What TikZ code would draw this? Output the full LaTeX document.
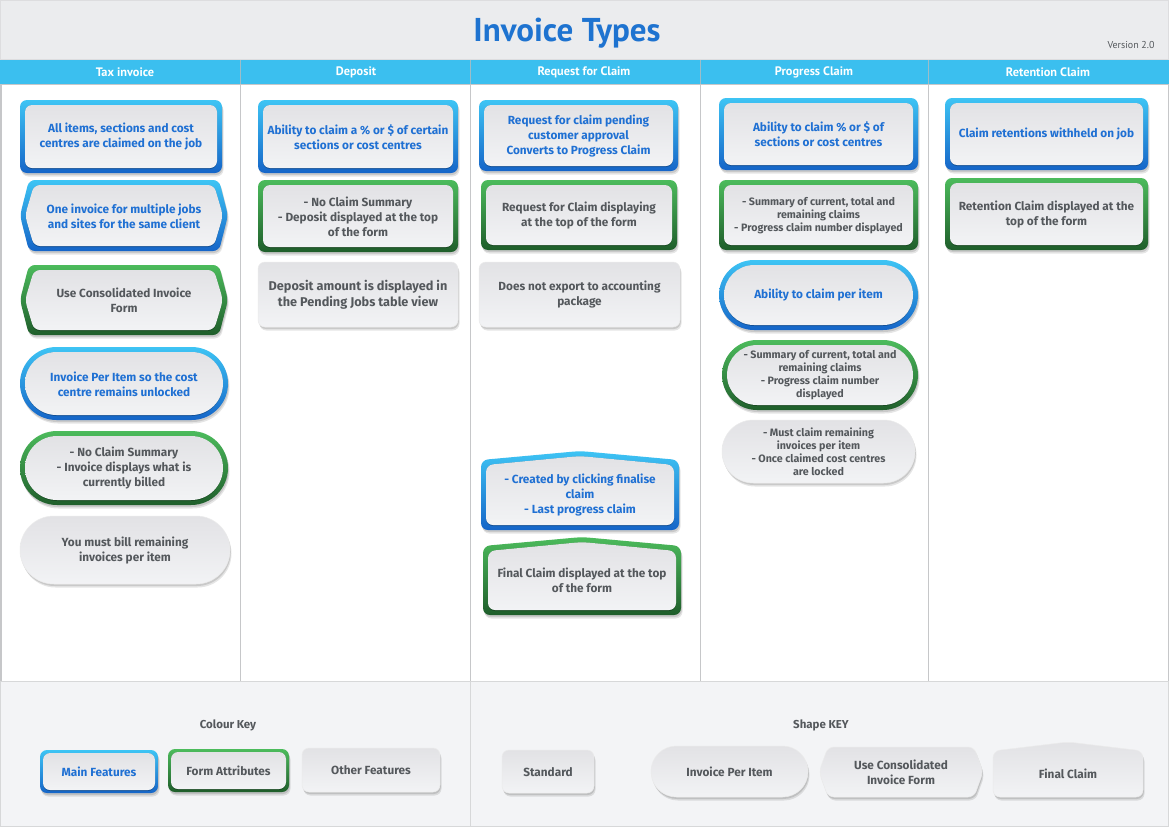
\documentclass[tikz,border=0pt]{standalone}
\usepackage{fontspec}
\setmainfont{Fira Sans}
\newfontfamily\headfont{PT Sans}
\definecolor{bluetop}{HTML}{3EC4F4}
\definecolor{bluebot}{HTML}{1565C8}
\definecolor{greentop}{HTML}{4CBB5C}
\definecolor{greenbot}{HTML}{1F5E2B}
\definecolor{fillTop}{HTML}{E2E2E5}
\definecolor{fillBot}{HTML}{F2F3F5}
\definecolor{bluetext}{HTML}{1F70D3}
\definecolor{graytext}{HTML}{54585C}
\definecolor{titlebg}{HTML}{EBECEE}
\definecolor{headbg}{HTML}{3BBFEF}
\definecolor{keybg}{HTML}{F3F4F6}
\definecolor{linegray}{HTML}{C6C7C9}
\definecolor{titleblue}{HTML}{1E73D0}

\newcommand{\fA}{\fontsize{11.8}{15}\selectfont\bfseries}
\newcommand{\fS}{\fontsize{10.7}{13}\selectfont\bfseries}
\newcommand{\fL}{\fontsize{12.7}{16}\selectfont\bfseries}
\def\bw{5}

% #1 type (0 standard, 1 stadium, 2 hexagon, 3 final), #2 x1, #3 y1, #4 x2, #5 y2, #6 inset, #7 options
\newcommand{\drawshape}[7]{%
  \pgfmathsetmacro\xa{#2+#6}\pgfmathsetmacro\ya{#3+#6}%
  \pgfmathsetmacro\xb{#4-#6}\pgfmathsetmacro\yb{#5-#6}%
  \pgfmathsetmacro\xm{(\xa+\xb)/2}\pgfmathsetmacro\ym{(\ya+\yb)/2}%
  \pgfmathsetmacro\rr{0.499*(\yb-\ya)}%
  \ifcase#1\relax
    \path[#7,rounded corners=7pt] (\xa,\ya) rectangle (\xb,\yb);
  \or
    \path[#7,rounded corners=\rr pt] (\xa,\ya) rectangle (\xb,\yb);
  \or
    \path[#7,rounded corners=6pt] (\xm,\yb) -- ({\xa+9},\yb) -- (\xa,\ym) -- ({\xa+9},\ya) -- ({\xb-9},\ya) -- (\xb,\ym) -- ({\xb-9},\yb) -- cycle;
  \or
    \path[#7,rounded corners=7pt] (\xm,\yb) -- (\xa,\yb) -- (\xa,{\ya+9}) -- (\xm,\ya) -- (\xb,{\ya+9}) -- (\xb,\yb) -- cycle;
  \fi}

% #1 name, #2 type, #3 kind (0 blue, 1 green, 2 gray), #4 x1, #5 y1, #6 x2, #7 y2, #8 font, #9 text
\newcommand{\featbox}[9]{%
  \drawshape{#2}{#4+1.5}{#5+3.5}{#6+1.5}{#7+3.5}{0}{fill=black,opacity=0.10}%
  \drawshape{#2}{#4+0.8}{#5+2}{#6+0.8}{#7+2}{0}{fill=black,opacity=0.12}%
  \ifcase#3\relax
    \drawshape{#2}{#4}{#5}{#6}{#7}{0}{top color=bluetop,bottom color=bluebot}%
    \drawshape{#2}{#4}{#5}{#6}{#7+1}{\bw}{fill=black,opacity=0.25}%
    \drawshape{#2}{#4}{#5}{#6}{#7}{\bw}{top color=fillTop,bottom color=fillBot}%
    \def\tcol{bluetext}%
  \or
    \drawshape{#2}{#4}{#5}{#6}{#7}{0}{top color=greentop,bottom color=greenbot}%
    \drawshape{#2}{#4}{#5}{#6}{#7+1}{\bw}{fill=black,opacity=0.25}%
    \drawshape{#2}{#4}{#5}{#6}{#7}{\bw}{top color=fillTop,bottom color=fillBot}%
    \def\tcol{graytext}%
  \or
    \drawshape{#2}{#4}{#5}{#6}{#7}{0}{top color=fillTop,bottom color=fillBot,draw=black!8,line width=0.5pt}%
    \def\tcol{graytext}%
  \fi
  \pgfmathsetmacro\cx{(#4+#6)/2}%
  \pgfmathsetmacro\cy{(#5+#7)/2+0.5}%
  \ifnum#2=3 \pgfmathsetmacro\cy{\cy+4}\fi
  \node[boxtext,text=\tcol,font=#8] (#1) at (\cx,\cy) {#9};}

\begin{document}
\begin{tikzpicture}[x=1pt,y=-1pt,
  boxtext/.style={align=center,inner sep=0pt},
  headtext/.style={text=white,font=\headfont\bfseries\fontsize{12.3}{14}\selectfont,inner sep=0pt},
  keytitle/.style={text=graytext,font=\fontsize{11.5}{13}\selectfont\bfseries,inner sep=0pt}]
\useasboundingbox (0,0) rectangle (1169,827);
% backgrounds
\fill[white] (0,0) rectangle (1169,827);
\fill[titlebg] (0,0) rectangle (1169,59);
\draw[linegray!60,line width=0.8pt] (0.5,0.5) rectangle (1168.5,59);
\fill[headbg] (0,60) rectangle (1169,84);
\draw[linegray,line width=1pt] (0,84.5) -- (1169,84.5);
\fill[keybg] (0,681) rectangle (1169,827);
\draw[linegray!70,line width=1pt] (0.5,681) rectangle (1168.5,826.5);
\draw[linegray!70,line width=1pt] (470,681) -- (470,827);
% column lines
\foreach \xx in {240,470,700,928}{
  \draw[linegray,line width=1pt] (\xx,85) -- (\xx,681);
  \draw[white!70!headbg!80!black,line width=0.6pt] (\xx,60) -- (\xx,84);
}
\draw[linegray,line width=1.5pt] (0.75,85) -- (0.75,681);
\draw[linegray,line width=1pt] (1168.5,85) -- (1168.5,681);
% title
\node[text=titleblue,font=\headfont\bfseries\fontsize{33}{36}\selectfont,inner sep=0pt] (title) at (567,33) {Invoice Types};
\node[text=graytext,font=\headfont\fontsize{10}{12}\selectfont,inner sep=0pt] (version) at (1131,45) {Version 2.0};
% headers
\node[headtext] (h1) at (125,72) {Tax invoice};
\node[headtext] (h2) at (356,72) {Deposit};
\node[headtext] (h3) at (584,72) {Request for Claim};
\node[headtext] (h4) at (814,72) {Progress Claim};
\node[headtext] (h5) at (1048,72) {Retention Claim};

% Tax invoice
\featbox{t1}{0}{0}{20}{100}{222}{173}{\fA}{All items, sections and cost\\centres are claimed on the job}
\featbox{t2}{2}{0}{20}{180}{228}{251}{\fA}{One invoice for multiple jobs\\and sites for the same client}
\featbox{t3}{2}{1}{20}{265}{228}{335}{\fA}{Use Consolidated Invoice\\Form}
\featbox{t4}{1}{0}{20}{347}{228}{420}{\fA}{Invoice Per Item so the cost\\centre remains unlocked}
\featbox{t5}{1}{1}{20}{431}{228}{505}{\fA}{- No Claim Summary\\- Invoice displays what is\\currently billed}
\featbox{t6}{1}{2}{20}{516}{230}{584}{\fA}{You must bill remaining\\invoices per item}
% Deposit
\featbox{d1}{0}{0}{258}{100}{458}{173}{\fA}{Ability to claim a \% or \$ of certain\\sections or cost centres}
\featbox{d2}{0}{1}{258}{180}{458}{252}{\fA}{- No Claim Summary\\- Deposit displayed at the top\\of the form}
\featbox{d3}{0}{2}{258}{262}{458}{327}{\fL}{Deposit amount is displayed in\\the Pending Jobs table view}
% Request for claim
\featbox{r1}{0}{0}{479}{100}{678}{171}{\fA}{Request for claim pending\\customer approval\\Converts to Progress Claim}
\featbox{r2}{0}{1}{481}{180}{677}{250}{\fA}{Request for Claim displaying\\at the top of the form}
\featbox{r3}{0}{2}{479}{262}{680}{327}{\fA}{Does not export to accounting\\package}
\featbox{r4}{3}{0}{481}{451}{679}{530}{\fA}{- Created by clicking finalise\\claim\\- Last progress claim}
\featbox{r5}{3}{1}{483}{537}{681}{615}{\fA}{Final Claim displayed at the top\\of the form}
% Progress claim
\featbox{p1}{0}{0}{719}{98}{918}{170}{\fA}{Ability to claim \% or \$ of\\sections or cost centres}
\featbox{p2}{0}{1}{719}{180}{918}{250}{\fS}{- Summary of current, total and\\remaining claims\\- Progress claim number displayed}
\featbox{p3}{1}{0}{719}{260}{918}{330}{\fA}{Ability to claim per item}
\featbox{p4}{1}{1}{722}{340}{918}{410}{\fS}{- Summary of current, total and\\remaining claims\\- Progress claim number\\displayed}
\featbox{p5}{1}{2}{722}{420}{915}{483}{\fS}{- Must claim remaining\\invoices per item\\- Once claimed cost centres\\are locked}
% Retention claim
\featbox{c1}{0}{0}{945}{98}{1148}{170}{\fA}{Claim retentions withheld on job}
\featbox{c2}{0}{1}{945}{178}{1148}{250}{\fA}{Retention Claim displayed at the\\top of the form}

% Colour key
\node[keytitle] (ck) at (228,725) {Colour Key};
\def\bw{3}
\featbox{k1}{0}{0}{40}{750}{158}{793}{\fA}{Main Features}
\featbox{k2}{0}{1}{168}{749}{289}{792}{\fA}{Form Attributes}
\featbox{k3}{0}{2}{302}{748}{440}{792}{\fA}{Other Features}
% Shape key
\node[keytitle] (sk) at (821,725) {Shape KEY};
\featbox{s1}{0}{2}{502}{750}{594}{793}{\fA}{Standard}
\featbox{s2}{1}{2}{651}{746}{808}{797}{\fA}{Invoice Per Item}
\featbox{s3}{2}{2}{819}{747}{983}{797}{\fA}{Use Consolidated\\Invoice Form}
\featbox{s4}{3}{2}{993}{742}{1143}{797}{\fA}{Final Claim}
\end{tikzpicture}
\end{document}
